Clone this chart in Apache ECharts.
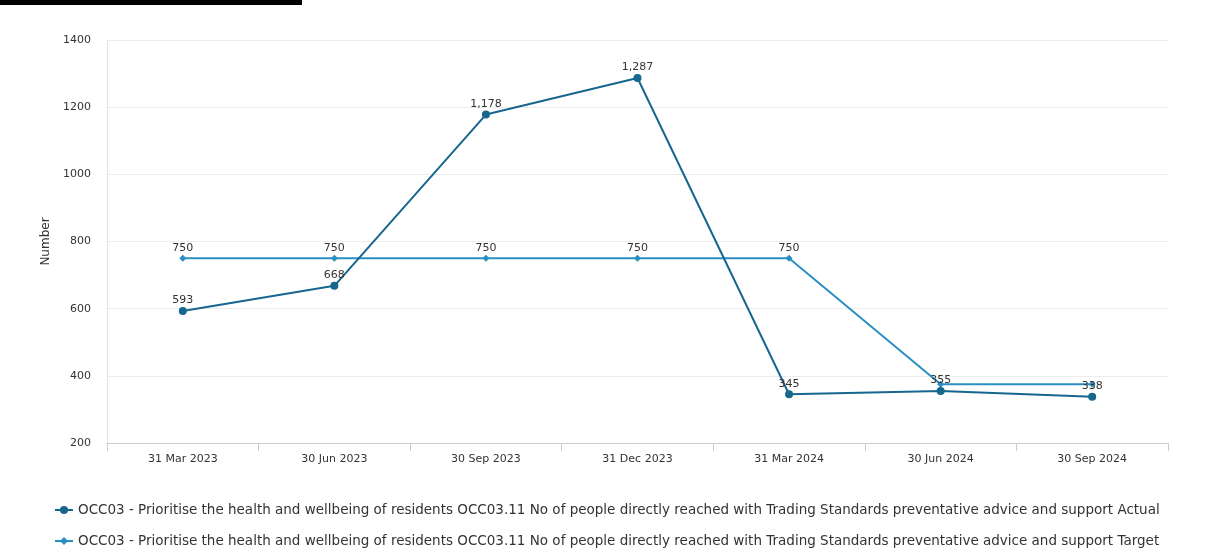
<!DOCTYPE html>
<html>
<head>
<meta charset="utf-8">
<script src="https://cdn.jsdelivr.net/npm/echarts@6/dist/echarts.min.js"></script>
<style>
  html, body { margin: 0; padding: 0; background: #fff; }
  #chart { width: 1206px; height: 548px; }
</style>
</head>
<body>
<div id="chart"></div>
<script>
// Quarter-end reporting dates
const quarters = ['31 Mar 2023', '30 Jun 2023', '30 Sep 2023', '31 Dec 2023', '31 Mar 2024', '30 Jun 2024', '30 Sep 2024'];
// People directly reached with preventative advice and support
const actualValues = [593, 668, 1178, 1287, 345, 355, 338];
const targetValues = [750, 750, 750, 750, 750, 375, 375];
// Target labels drawn only where they do not collide with actual labels
const targetLabelShown = [true, true, true, true, true, false, false];

const baseName = 'OCC03 - Prioritise the health and wellbeing of residents OCC03.11 No of people directly reached with Trading Standards preventative advice and support';
const actualName = baseName + ' Actual';
const targetName = baseName + ' Target';

const actualColor = '#17668e';
const targetColor = '#2a8fc2';
const fontFamily = '"DejaVu Sans", Verdana, sans-serif';

const fmt = v => v.toLocaleString('en-GB');

// One legend row per series, stacked under the plot
const legendRow = (name, top) => ({
  orient: 'horizontal',
  left: 54,
  top: top,
  padding: 0,
  itemGap: 10,
  itemWidth: 18,
  itemHeight: 10,
  textStyle: { fontSize: 13.5, color: '#333', fontFamily: fontFamily },
  data: [name]
});

const chart = echarts.init(document.getElementById('chart'));
chart.setOption({
  animation: false,
  textStyle: { fontFamily: fontFamily },
  graphic: [{
    type: 'rect',
    left: 0, top: 0,
    shape: { width: 302, height: 5 },
    style: { fill: '#000' }
  }],
  grid: { left: 107, right: 38, top: 40, bottom: 105 },
  legend: [legendRow(actualName, 503), legendRow(targetName, 534)],
  xAxis: {
    type: 'category',
    data: quarters,
    boundaryGap: true,
    axisLine: { lineStyle: { color: '#ccc' } },
    axisTick: { show: true, length: 8, lineStyle: { color: '#ccc' } },
    axisLabel: { color: '#333', fontSize: 11, margin: 11 }
  },
  yAxis: {
    type: 'value',
    min: 200,
    max: 1400,
    interval: 200,
    name: 'Number',
    nameLocation: 'middle',
    nameGap: 52,
    nameTextStyle: { color: '#333', fontSize: 12 },
    axisLine: { show: true, lineStyle: { color: '#e3e3e3' } },
    axisTick: { show: false },
    axisLabel: { color: '#333', fontSize: 11, margin: 16, formatter: v => String(v) },
    splitLine: { lineStyle: { color: '#ececec' } }
  },
  series: [
    {
      name: actualName,
      type: 'line',
      data: actualValues,
      color: actualColor,
      symbol: 'circle',
      symbolSize: 8,
      lineStyle: { width: 2, color: actualColor },
      itemStyle: { color: actualColor },
      label: {
        show: true,
        position: 'top',
        distance: 1,
        color: '#333',
        fontSize: 11,
        formatter: p => fmt(p.value)
      },
      z: 3
    },
    {
      name: targetName,
      type: 'line',
      data: targetValues.map((v, i) => ({ value: v, label: { show: targetLabelShown[i] } })),
      color: targetColor,
      symbol: 'diamond',
      symbolSize: 7,
      lineStyle: { width: 2, color: targetColor },
      itemStyle: { color: targetColor },
      label: {
        show: true,
        position: 'top',
        distance: 1,
        color: '#333',
        fontSize: 11,
        formatter: p => fmt(p.value)
      },
      z: 2
    }
  ]
});
</script>
</body>
</html>
